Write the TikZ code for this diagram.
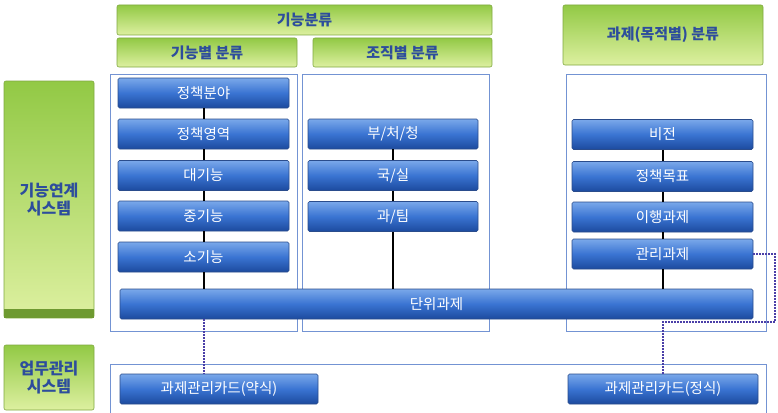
\documentclass[tikz,border=0pt]{standalone}
\usepackage{fontspec}
\setmainfont{Noto Sans CJK KR}
\definecolor{btop}{HTML}{7AA8EA}
\definecolor{bmid}{HTML}{3A74D2}
\definecolor{bbot}{HTML}{1C4A9E}
\definecolor{bedge}{HTML}{2A4C8C}
\definecolor{gtop}{HTML}{92C945}
\definecolor{gbot}{HTML}{DDF0A0}
\definecolor{gedge}{HTML}{7FA840}
\definecolor{gdark}{HTML}{6E9A30}
\definecolor{gtext}{HTML}{2D4D9C}
\definecolor{framec}{HTML}{7393D3}
\definecolor{dotc}{HTML}{4B3FA8}
\tikzset{
  x=1pt, y=-1pt,
  bluebox/.style={draw=bedge, line width=0.6pt, rounded corners=1.5pt,
    top color=btop, bottom color=bbot, middle color=bmid,
    text=white, font=\fontsize{14.5}{16}\selectfont, inner sep=0pt, minimum height=30pt},
  greenbox/.style={draw=gedge, line width=0.6pt, rounded corners=2pt,
    top color=gtop, bottom color=gbot,
    text=gtext, font=\fontsize{15}{17}\selectfont\bfseries, inner sep=0pt},
  sidebox/.style={greenbox, font=\fontsize{16}{19}\selectfont\bfseries, align=center},
  framebox/.style={draw=framec, line width=0.9pt},
  conn/.style={draw=black, line width=2pt},
  dotline/.style={draw=dotc, line width=2pt, dash pattern=on 1.5pt off 1.5pt}
}
\begin{document}
\begin{tikzpicture}
\useasboundingbox (0,0) rectangle (778,412);
% frames
\draw[framebox] (110,74) rectangle (297,331);
\draw[framebox] (302,74) rectangle (489,331);
\draw[framebox] (566,74) rectangle (766,331);
\draw[framebox] (110,414) |- (766,364) -- (766,414);
% green headers
\node[greenbox, minimum width=375pt, minimum height=30pt] (g0) at (304.5,20) {기능분류};
\node[greenbox, minimum width=180pt, minimum height=29pt] (g1) at (207,52.5) {기능별 분류};
\node[greenbox, minimum width=179pt, minimum height=29pt] (g2) at (402.5,52.5) {조직별 분류};
\node[greenbox, minimum width=200pt, minimum height=60pt] (g3) at (663,35) {과제(목적별) 분류};
% side boxes
\node[sidebox, minimum width=90pt, minimum height=237pt] (L1) at (49,199.5) {기능연계\\[-1pt]시스템};
\fill[gdark] ([xshift=0.3pt,yshift=0.3pt]L1.south west) rectangle ([xshift=-0.3pt,yshift=9pt]L1.south east);
\node[sidebox, minimum width=90pt, minimum height=65pt] (L2) at (49,377.5) {업무관리\\[-1pt]시스템};
% column 1
\node[bluebox, minimum width=171pt] (p1) at (203.5,93) {정책분야};
\node[bluebox, minimum width=171pt] (p2) at (203.5,134) {정책영역};
\node[bluebox, minimum width=171pt] (p3) at (203.5,175.5) {대기능};
\node[bluebox, minimum width=171pt] (p4) at (203.5,216) {중기능};
\node[bluebox, minimum width=171pt] (p5) at (203.5,257) {소기능};
% column 2
\node[bluebox, minimum width=170pt] (c1) at (393,134) {부/처/청};
\node[bluebox, minimum width=170pt] (c2) at (393,175.5) {국/실};
\node[bluebox, minimum width=170pt] (c3) at (393,216.5) {과/팀};
% column 3
\node[bluebox, minimum width=181pt] (m1) at (662.5,134.5) {비전};
\node[bluebox, minimum width=181pt] (m2) at (662.5,176.5) {정책목표};
\node[bluebox, minimum width=181pt] (m3) at (662.5,217) {이행과제};
\node[bluebox, minimum width=181pt] (m4) at (662.5,254) {관리과제};
% unit task
\node[bluebox, minimum width=633pt] (u) at (436.5,304) {단위과제};
% cards
\node[bluebox, minimum width=198pt] (k1) at (219,389) {과제관리카드(약식)};
\node[bluebox, minimum width=190pt] (k2) at (663,389) {과제관리카드(정식)};
% connectors
\draw[conn] (p1.south) -- (p2.north);
\draw[conn] (p2.south) -- (p3.north);
\draw[conn] (p3.south) -- (p4.north);
\draw[conn] (p4.south) -- (p5.north);
\draw[conn] (p5.south) -- (p5.south |- u.north);
\draw[conn] (c1.south) -- (c2.north);
\draw[conn] (c2.south) -- (c3.north);
\draw[conn] (c3.south) -- (c3.south |- u.north);
\draw[conn] (m1.south) -- (m2.north);
\draw[conn] (m2.south) -- (m3.north);
\draw[conn] (m3.south) -- (m4.north);
\draw[conn] (m4.south) -- (m4.south |- u.north);
% dotted links
\coordinate (r) at (775,322);
\draw[dotline] (p5.south |- u.south) -- (p5.south |- k1.north);
\draw[dotline] (m4.east) -| (r) -| (k2.north);
\end{tikzpicture}
\end{document}
